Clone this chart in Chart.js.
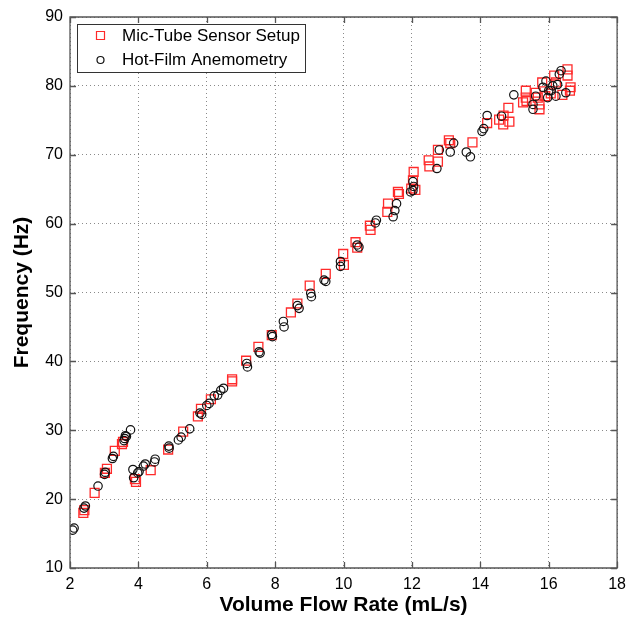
<!DOCTYPE html>
<html><head><meta charset="utf-8">
<script src="https://cdn.jsdelivr.net/npm/chart.js@4/dist/chart.umd.min.js"></script>
<style>html,body{margin:0;padding:0;background:#fff}canvas{display:block}</style>
</head><body>
<canvas id="c" width="633" height="621"></canvas>
<script>
// Mic-Tube Sensor Setup (red squares)
const micX = [2.39,2.42,2.72,3.08,3.02,3.31,3.52,3.55,3.93,3.90,4.36,4.87,5.31,5.74,5.83,6.12,6.74,6.74,7.15,7.51,7.90,8.46,8.65,9.01,9.48,9.99,10.01,10.35,10.40,10.77,10.79,11.28,11.30,11.59,11.62,11.98,12.05,12.03,12.10,12.49,12.51,12.76,12.76,13.08,13.12,13.77,14.20,14.55,14.67,14.85,14.82,14.68,15.25,15.33,15.33,15.35,15.62,15.68,15.73,15.73,15.81,15.90,16.16,16.21,16.55,16.55,16.64,16.62,16.06,16.40];
const micY = [18.0,18.4,20.9,24.4,23.8,27.0,28.0,28.3,22.5,22.9,24.2,27.2,29.8,32.0,33.1,34.5,37.4,37.1,40.1,42.1,43.8,47.1,48.4,51.0,52.7,55.6,54.0,57.3,56.5,59.7,59.1,61.7,62.9,64.6,64.3,65.1,67.5,66.3,64.9,69.2,68.3,70.7,69.0,72.1,71.7,71.8,74.6,75.1,74.4,74.8,76.8,75.7,77.6,79.3,78.3,77.8,79.0,78.3,77.3,76.6,80.5,78.5,81.5,80.5,82.4,81.5,79.8,79.3,78.9,78.7];
// Hot-Film Anemometry (black circles)
const hotX = [2.08,2.12,2.41,2.45,2.82,3.01,3.03,3.24,3.27,3.60,3.62,3.65,3.58,3.77,3.84,3.86,3.98,4.02,4.15,4.20,4.49,4.47,4.89,4.90,5.17,5.25,5.50,5.80,5.85,6.00,6.07,6.22,6.32,6.41,6.49,7.17,7.19,7.53,7.56,7.92,7.90,8.24,8.26,8.65,8.70,9.04,9.06,9.43,9.48,9.91,9.91,10.40,10.45,10.93,10.96,11.45,11.50,11.55,11.96,12.03,12.05,12.03,12.73,12.80,13.12,13.22,13.59,13.71,14.05,14.10,14.20,14.62,14.98,15.54,15.54,15.62,15.83,15.92,15.97,16.07,16.21,16.26,16.31,16.36,16.50,16.12,16.00];
const hotY = [15.5,15.8,18.7,19.0,21.9,23.6,23.9,25.9,26.2,28.8,29.2,29.1,28.5,30.05,24.3,23.1,23.8,24.0,24.8,25.1,25.8,25.4,27.7,27.4,28.6,29.0,30.2,32.5,32.3,33.6,33.9,35.0,35.1,35.8,36.1,39.7,39.2,41.4,41.2,43.6,43.9,45.8,45.0,48.1,47.7,49.9,49.4,51.8,51.6,54.5,53.8,56.9,56.6,60.1,60.5,61.0,61.9,62.9,64.6,66.1,65.4,64.8,68.0,70.7,70.4,71.7,70.4,69.7,73.4,73.8,75.7,75.6,78.7,77.3,76.6,78.5,79.8,80.7,78.3,79.3,78.5,80.2,81.7,82.2,79.0,80.0,79.3];
const xTicks = [2,4,6,8,10,12,14,16,18];
const yTicks = [10,20,30,40,50,60,70,80,90];
const micLabel = 'Mic-Tube Sensor Setup';
const hotLabel = 'Hot-Film Anemometry';
const xTitle = 'Volume Flow Rate (mL/s)';
const yTitle = 'Frequency (Hz)';

const FONT = '"Liberation Sans", Arial, sans-serif';
const AXIS = '#555555';

const toPts = (xs, ys) => xs.map((x, i) => ({x, y: ys[i]}));

const framePlugin = {
  id: 'frame',
  afterDatasetsDraw(chart) {
    const {ctx, chartArea: a, scales: {x, y}} = chart;
    ctx.save();
    ctx.strokeStyle = AXIS;
    ctx.lineWidth = 1.3;
    ctx.beginPath();
    ctx.rect(a.left, a.top, a.right - a.left, a.bottom - a.top);
    ctx.stroke();
    const tl = 6;
    ctx.beginPath();
    xTicks.forEach(v => {
      const px = Math.round(x.getPixelForValue(v)) + 0.5;
      ctx.moveTo(px, a.bottom); ctx.lineTo(px, a.bottom - tl);
      ctx.moveTo(px, a.top); ctx.lineTo(px, a.top + tl);
    });
    yTicks.forEach(v => {
      const py = Math.round(y.getPixelForValue(v)) + 0.5;
      ctx.moveTo(a.left, py); ctx.lineTo(a.left + tl, py);
      ctx.moveTo(a.right, py); ctx.lineTo(a.right - tl, py);
    });
    ctx.stroke();

    // legend box
    const bx = 77, by = 24, bw = 228, bh = 48;
    ctx.fillStyle = '#ffffff';
    ctx.fillRect(bx, by, bw, bh);
    ctx.strokeStyle = '#333333';
    ctx.lineWidth = 1;
    ctx.strokeRect(bx + 0.5, by + 0.5, bw, bh);
    ctx.font = '17px ' + FONT;
    ctx.fillStyle = '#000';
    ctx.textBaseline = 'middle';
    ctx.textAlign = 'left';
    const ds = chart.data.datasets;
    const rows = [36, 60];
    ds.forEach((d, i) => {
      ctx.save();
      ctx.strokeStyle = d.borderColor;
      ctx.lineWidth = 1.2;
      ctx.beginPath();
      if (d.pointStyle === 'rect') {
        ctx.rect(96.5, rows[i] - 4.5, 8, 8);
      } else {
        ctx.arc(100.5, rows[i], 3.5, 0, Math.PI * 2);
      }
      ctx.stroke();
      ctx.restore();
      ctx.fillText(d.label, 122, rows[i]);
    });
    ctx.restore();
  }
};

new Chart(document.getElementById('c'), {
  type: 'scatter',
  data: {
    datasets: [
      {
        label: micLabel,
        data: toPts(micX, micY),
        pointStyle: 'rect',
        pointRadius: 6.3,
        borderColor: '#ff2a2a',
        backgroundColor: 'rgba(0,0,0,0)',
        borderWidth: 1.3,
        order: 2
      },
      {
        label: hotLabel,
        data: toPts(hotX, hotY),
        pointStyle: 'circle',
        pointRadius: 4.2,
        borderColor: '#111111',
        backgroundColor: 'rgba(0,0,0,0)',
        borderWidth: 1.2,
        order: 1
      }
    ]
  },
  options: {
    responsive: false,
    animation: false,
    devicePixelRatio: 1,
    layout: {padding: {top: 17, right: 11, left: 0, bottom: 0}},
    plugins: {legend: {display: false}, tooltip: {enabled: false}},
    scales: {
      x: {
        type: 'linear', min: 2, max: 18,
        afterBuildTicks: s => { s.ticks = xTicks.map(v => ({value: v})); },
        afterFit: s => { s.height = 53; },
        ticks: {font: {family: FONT, size: 16}, color: '#000', padding: 7, maxRotation: 0, autoSkip: false},
        grid: {color: '#8a8a8a', lineWidth: 1, drawTicks: false},
        border: {display: false, dash: [1, 3]},
        title: {display: true, text: xTitle, color: '#000', font: {family: FONT, size: 21, weight: 'bold'}, padding: {top: 0, bottom: 3}}
      },
      y: {
        type: 'linear', min: 10, max: 90,
        afterBuildTicks: s => { s.ticks = yTicks.map(v => ({value: v})); },
        afterFit: s => { s.width = 70; },
        ticks: {font: {family: FONT, size: 16}, color: '#000', padding: 7, autoSkip: false},
        grid: {color: '#8a8a8a', lineWidth: 1, drawTicks: false},
        border: {display: false, dash: [1, 3]},
        title: {display: true, text: yTitle, color: '#000', font: {family: FONT, size: 21, weight: 'bold'}, padding: {top: 10, bottom: 0}}
      }
    }
  },
  plugins: [framePlugin]
});
</script>
</body></html>
